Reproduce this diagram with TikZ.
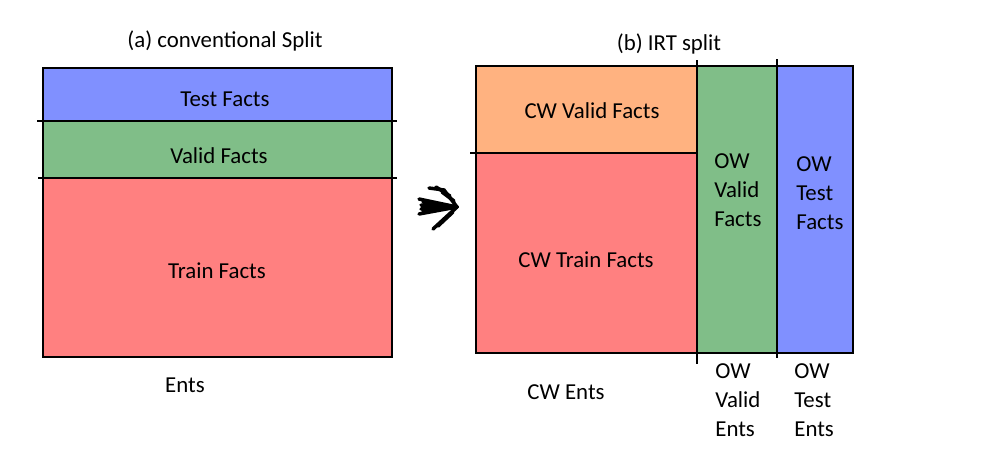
\documentclass[tikz,border=0pt]{standalone}
\usepackage{fontspec}
\setmainfont{Carlito}
\usetikzlibrary{positioning}
\definecolor{testblue}{RGB}{128,144,255}
\definecolor{validgreen}{RGB}{128,190,136}
\definecolor{trainred}{RGB}{255,128,128}
\definecolor{cworange}{RGB}{255,178,128}
\begin{document}
\begin{tikzpicture}[x=0.02cm,y=-0.02cm]
	\tikzstyle{lbl}=[font=\fontsize{13}{16.4}\selectfont,inner sep=0pt,anchor=base]
	\tikzstyle{stack}=[lbl,align=left,anchor=base west]
	\tikzstyle{frame}=[draw=black,line width=1.3pt]
	\tikzstyle{cut}=[draw=black,line width=0.8pt]
	\tikzstyle{scrawl}=[draw=black,line width=2pt,line cap=round]
	\useasboundingbox (0,0) rectangle (1000,468);
	% (a) conventional split
	\fill[testblue] (43,68) rectangle (392,121);
	\fill[validgreen] (43,121) rectangle (392,178);
	\fill[trainred] (43,178) rectangle (392,357);
	\draw[frame] (43,68) rectangle (392,357);
	\coordinate (a1l) at (37,121);
	\coordinate (a1r) at (397,121);
	\coordinate (a2l) at (38,178);
	\coordinate (a2r) at (397,178);
	\draw[cut] (a1l) -- (a1r);
	\draw[cut] (a2l) -- (a2r);
	\node[lbl] (atitle) at (225,47) {(a) conventional Split};
	\node[lbl] (atest) at (225,106) {Test Facts};
	\node[lbl] (avalid) at (219,163) {Valid Facts};
	\node[lbl] (atrain) at (217,278) {Train Facts};
	\node[lbl] (aents) at (185,392) {Ents};
	% hand drawn arrow
	\coordinate (tip) at (457,207);
	\draw[scrawl] (419,199) -- (tip);
	\draw[scrawl] (421,205) -- (tip);
	\draw[scrawl] (419,214) -- (tip);
	\draw[scrawl] (423,202) -- (tip);
	\draw[scrawl] (423,211) -- (tip);
	\draw[scrawl] (421,209) -- (tip);
	\draw[scrawl] (429,188) -- (444,190) -- (tip);
	\draw[scrawl] (436,187) -- (450,196);
	\draw[scrawl] (442,192) -- (454,201);
	\draw[scrawl] (433,229) -- (tip);
	\draw[scrawl] (438,226) -- (453,212);
	% (b) IRT split
	\fill[cworange] (476,66) rectangle (697,153);
	\fill[trainred] (476,153) rectangle (697,353);
	\fill[validgreen] (697,66) rectangle (777,353);
	\fill[testblue] (777,66) rectangle (853,353);
	\draw[frame] (476,66) rectangle (853,353);
	\coordinate (b1l) at (470,153);
	\coordinate (b1r) at (697,153);
	\coordinate (b2t) at (697,60);
	\coordinate (b2b) at (697,364);
	\coordinate (b3t) at (777,59);
	\coordinate (b3b) at (777,358);
	\draw[cut] (b1l) -- (b1r);
	\draw[cut] (b2t) -- (b2b);
	\draw[cut] (b3t) -- (b3b);
	\node[lbl] (btitle) at (669,50) {(b) IRT split};
	\node[lbl] (cwvalid) at (592,118) {CW Valid Facts};
	\node[lbl] (cwtrain) at (586,267) {CW Train Facts};
	\node[stack] (owvalid) at (714,226) {OW\\Valid\\Facts};
	\node[stack] (owtest) at (796,229) {OW\\Test\\Facts};
	\node[lbl] (cwents) at (566,399) {CW Ents};
	\node[stack] (owvalidents) at (715,436) {OW\\Valid\\Ents};
	\node[stack] (owtestents) at (794,436) {OW\\Test\\Ents};
\end{tikzpicture}
\end{document}
